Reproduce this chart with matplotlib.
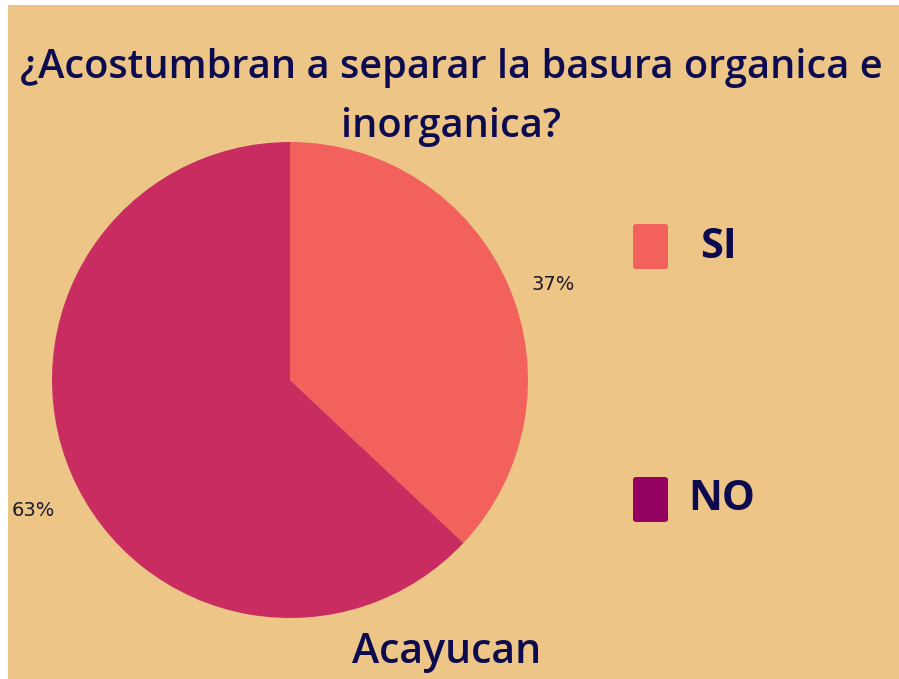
import matplotlib.pyplot as plt
from matplotlib.patches import Rectangle, FancyBboxPatch

# datos
labels = ['SI', 'NO']
values = [37, 63]
pie_colors = ['#F2615C', '#C92C61']
legend_colors = ['#F2615C', '#93005F']
title_lines = ['¿Acostumbran a separar la basura organica e', 'inorganica?']
subtitle = 'Acayucan'

bg = '#ECC587'
navy = '#0D0B50'

fig = plt.figure(figsize=(8.99, 6.79), dpi=100, facecolor='white')
# fondo (borde blanco arriba e izquierda)
fig.add_artist(Rectangle((8 / 899, 0), 1, 1 - 5 / 679, transform=fig.transFigure,
                         facecolor=bg, edgecolor='none', zorder=-10))

ax = fig.add_axes([52 / 899, 61 / 679, 476 / 899, 476 / 679])
wedges, texts, autotexts = ax.pie(values, colors=pie_colors, startangle=90, counterclock=False,
                                  autopct='%1.0f%%', pctdistance=1.18,
                                  textprops=dict(color='#1a1a2a', fontsize=14, family='DejaVu Sans'),
                                  wedgeprops=dict(linewidth=0))
# posiciones de las etiquetas como en la imagen
autotexts[0].set_position((1.105, 0.40))
autotexts[1].set_position((-1.08, -0.55))
ax.set_xlim(-1, 1)
ax.set_ylim(-1, 1)
ax.set_aspect('equal')
ax.axis('off')

for line, yb in zip(title_lines, [78, 137]):
    fig.text(451 / 899, 1 - yb / 679, line, ha='center', va='baseline', fontsize=28.6,
             color=navy, family='Open Sans', fontweight='semibold')
fig.text(447 / 899, 1 - 652 / 679, subtitle, ha='center', va='center', fontsize=29.5,
         color=navy, family='Open Sans', fontweight='semibold')

# leyenda
leg_y = [247, 500]
leg_tx = [700, 688]
for lab, col, y, tx in zip(labels, legend_colors, leg_y, leg_tx):
    fig.add_artist(FancyBboxPatch((633 / 899, 1 - (y + 22) / 679), 35 / 899, 45 / 679,
                                  boxstyle='round,pad=0,rounding_size=0.004',
                                  transform=fig.transFigure, facecolor=col, edgecolor='none'))
    fig.text(tx / 899, 1 - y / 679, lab, ha='left', va='center', fontsize=30,
             color=navy, family='Open Sans', fontweight='bold')

plt.savefig('out.png', dpi=100, facecolor=fig.get_facecolor())
